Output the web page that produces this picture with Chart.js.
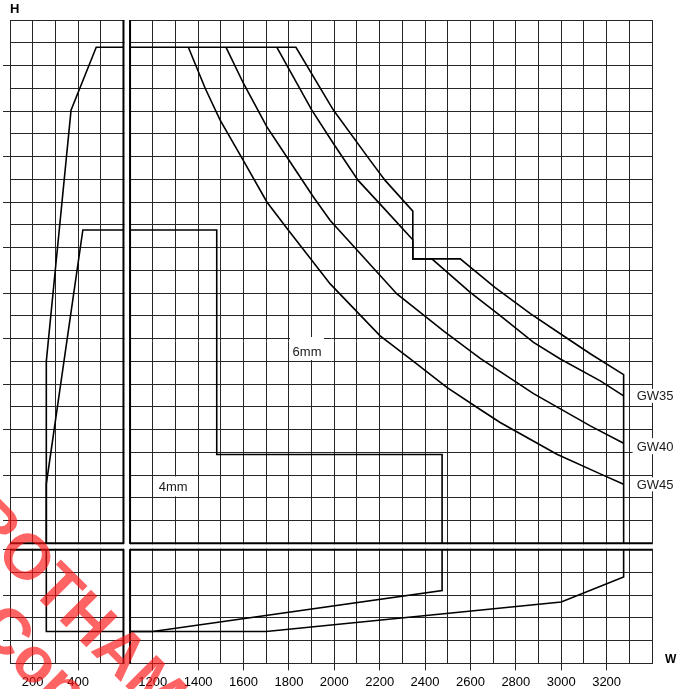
<!DOCTYPE html>
<html>
<head>
<meta charset="utf-8">
<script src="https://cdn.jsdelivr.net/npm/chart.js@4.4.1/dist/chart.umd.min.js"></script>
<style>
	html, body { margin: 0; padding: 0; background: #fff; }
	#wrap { width: 685px; height: 689px; position: relative; }
</style>
</head>
<body>
<div id="wrap"><canvas id="size_chart"></canvas></div>
<script>
// W ticks that carry a label, either side of the axis break
const w_labels_left = [200, 400]
const w_labels_right = [1200, 1400, 1600, 1800, 2000, 2200, 2400, 2600, 2800, 3000, 3200]

// GW curves (upper right panel)
const gw45_w = [1357, 1431, 1497, 1592, 1703, 1791, 1982, 2202, 2349, 2496, 2643, 2731, 2981, 3172, 3275]
const gw45_h = [2780, 2600, 2460, 2295, 2100, 1985, 1740, 1512, 1400, 1285, 1188, 1131, 991, 905, 859]
const gw40_w = [1523, 1600, 1703, 1791, 1908, 1982, 2276, 2481, 2643, 2878, 3128, 3275]
const gw40_h = [2780, 2621, 2430, 2298, 2122, 2019, 1696, 1534, 1413, 1258, 1116, 1040]
const gw35_w = [1747, 1901, 1996, 2105, 2211, 2346, 2346, 2430, 2599, 2731, 2878, 2996, 3172, 3275]
const gw35_h = [2780, 2504, 2357, 2195, 2081, 1934, 1850, 1850, 1703, 1601, 1483, 1410, 1314, 1248]

// 6mm outline, one piece per panel
const six_tl_w = [260, 260, 369, 480, 600]
const six_tl_h = [600, 1400, 2504, 2780, 2780]
const six_tr_w = [1100, 1831, 1996, 2158, 2224, 2346, 2346, 2555, 2709, 2864, 2996, 3128, 3275, 3275]
const six_tr_h = [2780, 2780, 2504, 2283, 2195, 2060, 1850, 1850, 1724, 1609, 1521, 1433, 1341, 600]
const six_br_w = [1100, 1700, 3000, 3275, 3275]
const six_br_h = [140, 140, 270, 380, 500]

// 4mm outline
const four_tl_w = [260, 260, 421, 600]
const four_tl_h = [600, 860, 1977, 1977]
const four_tr_w = [1100, 1482, 1482, 2475, 2475]
const four_tr_h = [1977, 1977, 990, 990, 600]
const four_br_w = [1100, 1200, 2475, 2475]
const four_br_h = [140, 140, 320, 500]

// shared foot of both outlines, lower left panel
const foot_bl_w = [260, 260, 600]
const foot_bl_h = [500, 140, 140]

const grid_color = '#262626'
const font_family = "'Liberation Sans', Arial, Helvetica, sans-serif"
const clear = 'rgba(0,0,0,0)'

const to_points = (w, h) => w.map((v, i) => ({ x: v, y: h[i] }))

const outline = (w, h, x_axis, y_axis) => ({
	data: to_points(w, h),
	xAxisID: x_axis,
	yAxisID: y_axis,
	borderColor: '#000',
	borderWidth: 1.6,
	pointRadius: 0,
	tension: 0,
	fill: false,
})

// H tick marks sit on every other grid line
const h_tick = (v) => v % 200 === 100 && v < 2900

const w_axis = (min, max, labels, weight, stack_weight) => ({
	type: 'linear',
	position: 'bottom',
	stack: 'w',
	weight: weight,
	stackWeight: stack_weight,
	min: min,
	max: max,
	ticks: {
		stepSize: 100,
		autoSkip: false,
		maxRotation: 0,
		minRotation: 0,
		padding: 4,
		color: '#000',
		font: { size: 13 },
		callback: (v) => (labels.includes(v) ? String(v) : ''),
	},
	grid: {
		color: grid_color,
		tickLength: 7,
		tickColor: (ctx) => (labels.includes(ctx.tick.value) ? grid_color : clear),
	},
	border: { color: grid_color },
})

const h_axis = (min, max, weight, stack_weight) => ({
	type: 'linear',
	position: 'left',
	stack: 'h',
	weight: weight,
	stackWeight: stack_weight,
	min: min,
	max: max,
	ticks: { display: false, stepSize: 100, autoSkip: false },
	grid: {
		color: grid_color,
		tickLength: 7,
		tickColor: (ctx) => (h_tick(ctx.tick.value) ? grid_color : clear),
	},
	border: { color: grid_color },
})

const gap_axis = (position, stack, weight, stack_weight) => ({
	type: 'linear',
	position: position,
	stack: stack,
	weight: weight,
	stackWeight: stack_weight,
	min: 0,
	max: 1,
	ticks: { display: false },
	grid: { display: false, tickLength: 7 },
	border: { display: false },
})

// white break strips plus the heavy edges either side of them
const axis_break = {
	id: 'axis_break',
	beforeDatasetsDraw(chart) {
		const { ctx, chartArea, scales } = chart
		const { xl, xr, yt, yb } = scales
		ctx.save()
		ctx.fillStyle = '#fff'
		ctx.fillRect(xl.right + 1, chartArea.top - 1, xr.left - xl.right - 2, chartArea.bottom - chartArea.top + 2)
		ctx.fillRect(chartArea.left - 1, yt.bottom + 1, chartArea.right - chartArea.left + 2, yb.top - yt.bottom - 2)
		ctx.strokeStyle = '#000'
		ctx.lineWidth = 2
		ctx.beginPath()
		for (const y_scale of [yt, yb]) {
			ctx.moveTo(xl.right, y_scale.top)
			ctx.lineTo(xl.right, y_scale.bottom)
			ctx.moveTo(xr.left, y_scale.top)
			ctx.lineTo(xr.left, y_scale.bottom)
		}
		for (const x_scale of [xl, xr]) {
			ctx.moveTo(x_scale.left, yt.bottom)
			ctx.lineTo(x_scale.right, yt.bottom)
			ctx.moveTo(x_scale.left, yb.top)
			ctx.lineTo(x_scale.right, yb.top)
		}
		ctx.stroke()
		ctx.restore()
	},
}

// boxed text labels; curve labels sit just right of the curve end
const notes = [
	{ text: '6mm', w: 1880, h: 1445, box: [-17, -14, 17, 9] },
	{ text: '4mm', w: 1290, h: 850, box: [-17, -10, 17, 10] },
	{ text: 'GW35', w: gw35_w[gw35_w.length - 1], h: gw35_h[gw35_h.length - 1], dx: 13, box: [-4, -7, 40, 7] },
	{ text: 'GW40', w: gw40_w[gw40_w.length - 1], h: gw40_h[gw40_h.length - 1], dx: 13, dy: 3, box: [-4, -8, 40, 8] },
	{ text: 'GW45', w: gw45_w[gw45_w.length - 1], h: gw45_h[gw45_h.length - 1], dx: 13, box: [-4, -7, 40, 7] },
]

// one line of the red stamp, placed by the centre of one of its letters
const stamp_line = (ctx, text, lead, cx, cy, angle) => {
	const along = ctx.measureText(lead).width + ctx.measureText(text[lead.length]).width / 2
	ctx.save()
	ctx.translate(cx - along * Math.cos(angle), cy - along * Math.sin(angle))
	ctx.rotate(angle)
	ctx.fillText(text, 0, 0)
	ctx.restore()
}

const chart_notes = {
	id: 'chart_notes',
	beforeDatasetsDraw(chart) {
		const { ctx, scales } = chart
		ctx.save()
		ctx.font = '13px ' + font_family
		ctx.textBaseline = 'middle'
		for (const n of notes) {
			const x = scales.xr.getPixelForValue(n.w) + (n.dx || 0)
			const y = scales.yt.getPixelForValue(n.h) + (n.dy || 0)
			ctx.fillStyle = '#fff'
			ctx.fillRect(x + n.box[0], y + n.box[1], n.box[2] - n.box[0], n.box[3] - n.box[1])
			ctx.fillStyle = '#1a1a1a'
			ctx.textAlign = n.dx ? 'left' : 'center'
			ctx.fillText(n.text, x, y + 1)
		}
		ctx.restore()
	},
	afterDraw(chart) {
		const { ctx } = chart
		ctx.save()
		ctx.fillStyle = '#000'
		ctx.textBaseline = 'alphabetic'
		ctx.textAlign = 'left'
		ctx.font = 'bold 13px ' + font_family
		ctx.fillText('H', 10, 13)
		ctx.font = 'bold 12px ' + font_family
		ctx.fillText('W', 665, 663)
		// red stamp across the lower left corner
		const angle = (45 * Math.PI) / 180
		ctx.fillStyle = 'rgba(255, 20, 20, 0.66)'
		ctx.font = 'bold 64px ' + font_family
		ctx.textBaseline = 'middle'
		stamp_line(ctx, 'ROTHAMSTED', 'R', 24, 560, angle)
		stamp_line(ctx, 'Copyright', 'C', 34, 664, angle)
		ctx.restore()
	},
}

// eslint-disable-next-line
const size_chart = new Chart(document.getElementById('size_chart'), {
	type: 'line',
	data: {
		datasets: [
			outline(six_tl_w, six_tl_h, 'xl', 'yt'),
			outline(four_tl_w, four_tl_h, 'xl', 'yt'),
			outline(foot_bl_w, foot_bl_h, 'xl', 'yb'),
			outline(six_tr_w, six_tr_h, 'xr', 'yt'),
			outline(four_tr_w, four_tr_h, 'xr', 'yt'),
			outline(six_br_w, six_br_h, 'xr', 'yb'),
			outline(four_br_w, four_br_h, 'xr', 'yb'),
			outline(gw35_w, gw35_h, 'xr', 'yt'),
			outline(gw40_w, gw40_h, 'xr', 'yt'),
			outline(gw45_w, gw45_h, 'xr', 'yt'),
		],
	},
	options: {
		animation: false,
		responsive: true,
		maintainAspectRatio: false,
		layout: { padding: { left: 3, top: 20, right: 33, bottom: -5 } },
		plugins: {
			legend: { display: false },
			tooltip: { enabled: false },
		},
		scales: {
			xl: w_axis(100, 600, w_labels_left, 0, 500),
			xgap: gap_axis('bottom', 'w', 1, 29),
			xr: w_axis(1100, 3400, w_labels_right, 2, 2300),
			yt: h_axis(600, 2900, 2, 2300),
			ygap: gap_axis('left', 'h', 1, 28),
			yb: h_axis(0, 500, 0, 500),
		},
	},
	plugins: [axis_break, chart_notes],
})
Chart.defaults.font.family = font_family
</script>
</body>
</html>
